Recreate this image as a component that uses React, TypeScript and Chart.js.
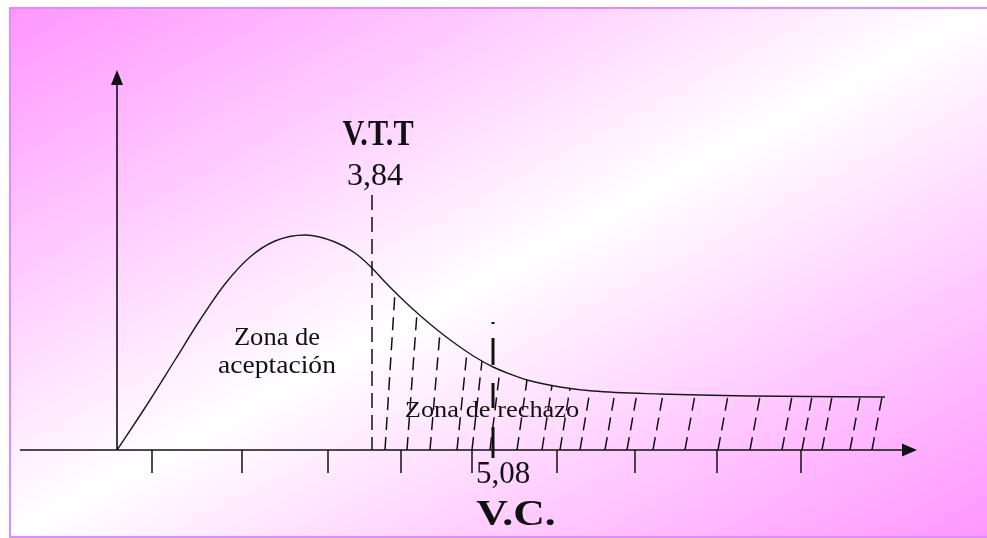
import React, { useEffect, useRef } from "react";
import { Chart, registerables } from "chart.js";

Chart.register(...registerables);

// Diagram units: x = horizontal position along the axis (origin = 0), y = curve height
const curveX = [0, 0.2, 0.33, 0.58, 0.83, 1.08, 1.33, 1.58, 1.88, 2.18, 2.38, 2.55, 2.68, 2.83, 2.98, 3.13, 3.28, 3.43, 3.58, 3.76, 3.93, 4.1, 4.43, 4.76, 5.43, 6.33, 7.68];
const curveY = [0, 0.3, 0.5, 0.9, 1.3, 1.66, 1.93, 2.09, 2.15, 2.08, 1.97, 1.82, 1.68, 1.53, 1.39, 1.26, 1.14, 1.03, 0.93, 0.83, 0.76, 0.7, 0.63, 0.59, 0.56, 0.54, 0.53];

// rejection-zone hatch lines (foot positions on the axis)
const hatchBase = [2.68, 2.9, 3.13, 3.4, 3.55, 3.73, 4.0, 4.25, 4.43, 4.63, 4.88, 5.1, 5.36, 5.68, 6.01, 6.33, 6.65, 6.85, 7.05, 7.33, 7.55];

// tick marks under the horizontal axis
const axisTicks = [0.35, 1.25, 2.11, 2.84, 3.55, 4.4, 5.18, 6.0, 6.84];

// critical values
const vttLabel = "V.T.T";
const vttValue = "3,84";
const vttPos = 2.55;
const vttTop = 2.55;
const vcLabel = "V.C.";
const vcValue = "5,08";
const vcPos = 3.76;
const vcTop = 1.28;

const acceptLabel = ["Zona de", "aceptación"];
const rejectLabel = "Zona de rechazo";

const xAxisRange = [-0.97, 8.0];
const yAxisTop = 3.8;

const SERIF = '"Liberation Serif", "Times New Roman", serif';

function drawText(ctx: CanvasRenderingContext2D, text: string, cx: number, base: number, font: string, sx = 1) {
  ctx.save();
  ctx.font = font;
  ctx.fillStyle = "#111";
  ctx.textAlign = "center";
  ctx.textBaseline = "alphabetic";
  ctx.translate(cx, base);
  ctx.scale(sx, 1);
  ctx.fillText(text, 0, 0);
  ctx.restore();
}

const diagramPlugin = {
  id: "diagram",
  afterDatasetsDraw(chart: any) {
    const ctx: CanvasRenderingContext2D = chart.ctx;
    const xs = chart.scales.x;
    const ys = chart.scales.y;
    const X = (v: number) => xs.getPixelForValue(v);
    const Y = (v: number) => ys.getPixelForValue(v);
    const y0 = Y(0);
    const meta = chart.getDatasetMeta(0);
    const pts = meta.data;
    const line = meta.dataset;

    const curveAt = (px: number) => {
      for (let i = 1; i < pts.length; i++) {
        if (px <= pts[i].x) {
          const a = pts[i - 1], b = pts[i];
          const t = (px - a.x) / (b.x - a.x);
          return a.y + t * (b.y - a.y);
        }
      }
      return pts[pts.length - 1].y;
    };

    // ---- hatches, clipped to the area under the curve
    ctx.save();
    ctx.beginPath();
    let ok = false;
    try {
      if (typeof line.updateControlPoints === "function") line.updateControlPoints(chart.chartArea, "x");
      line.path(ctx);
      ok = true;
    } catch (e) {
      ok = false;
    }
    if (!ok) {
      ctx.beginPath();
      pts.forEach((p: any, i: number) => (i ? ctx.lineTo(p.x, p.y) : ctx.moveTo(p.x, p.y)));
    }
    ctx.lineTo(pts[pts.length - 1].x, y0);
    ctx.lineTo(pts[0].x, y0);
    ctx.closePath();
    ctx.clip();
    ctx.strokeStyle = "#111";
    ctx.lineWidth = 1.5;
    ctx.setLineDash([13, 7]);
    const lean = 10;
    hatchBase.forEach((b) => {
      const bx = X(b);
      const tx = bx + lean;
      const ty = curveAt(tx);
      const dx = tx - bx, dy = ty - y0;
      const len = Math.hypot(dx, dy);
      ctx.beginPath();
      ctx.moveTo(bx, y0);
      ctx.lineTo(tx + (dx / len) * 6, ty + (dy / len) * 6);
      ctx.stroke();
    });
    ctx.restore();

    // ---- axes
    ctx.save();
    ctx.strokeStyle = "#111";
    ctx.fillStyle = "#111";
    ctx.lineWidth = 1.6;
    ctx.setLineDash([]);
    // horizontal
    const xl = X(xAxisRange[0]);
    const xr = X(xAxisRange[1]);
    ctx.beginPath();
    ctx.moveTo(xl, y0);
    ctx.lineTo(xr - 12, y0);
    ctx.stroke();
    ctx.beginPath();
    ctx.moveTo(xr, y0);
    ctx.lineTo(xr - 15, y0 - 6.5);
    ctx.lineTo(xr - 15, y0 + 6.5);
    ctx.closePath();
    ctx.fill();
    // vertical
    const x0 = X(0);
    const yt = Y(yAxisTop);
    ctx.beginPath();
    ctx.moveTo(x0, y0);
    ctx.lineTo(x0, yt + 12);
    ctx.stroke();
    ctx.beginPath();
    ctx.moveTo(x0, yt);
    ctx.lineTo(x0 - 6, yt + 15);
    ctx.lineTo(x0 + 6, yt + 15);
    ctx.closePath();
    ctx.fill();
    // ticks
    ctx.lineWidth = 1.5;
    axisTicks.forEach((t) => {
      ctx.beginPath();
      ctx.moveTo(X(t), y0);
      ctx.lineTo(X(t), y0 + 23);
      ctx.stroke();
    });

    // ---- critical value line (dashed)
    ctx.lineWidth = 1.5;
    ctx.setLineDash([15, 7]);
    ctx.beginPath();
    ctx.moveTo(X(vttPos), Y(vttTop));
    ctx.lineTo(X(vttPos), y0);
    ctx.stroke();

    // ---- calculated value line (thick dash-dot)
    ctx.lineWidth = 3;
    ctx.setLineDash([2, 14, 27, 18, 25, 19, 32, 100]);
    ctx.beginPath();
    ctx.moveTo(X(vcPos), Y(vcTop));
    ctx.lineTo(X(vcPos), y0 + 8);
    ctx.stroke();
    ctx.restore();

    // ---- texts
    drawText(ctx, vttLabel, X(vttPos) + 6, 145, `bold 36px ${SERIF}`, 0.84);
    drawText(ctx, vttValue, X(vttPos) + 3, 185, `32px ${SERIF}`);
    drawText(ctx, acceptLabel[0], 277, 345, `26px ${SERIF}`, 1.02);
    drawText(ctx, acceptLabel[1], 277, 373, `26px ${SERIF}`, 1.06);
    drawText(ctx, rejectLabel, 492, 417, `24px ${SERIF}`, 1.1);
    drawText(ctx, vcValue, X(vcPos) + 10, 483, `31px ${SERIF}`);
    drawText(ctx, vcLabel, X(vcPos) + 23, 525, `bold 35px ${SERIF}`, 1.25);
  },
};

export default function App() {
  const ref = useRef<HTMLCanvasElement>(null);
  useEffect(() => {
    const chart = new Chart(ref.current as HTMLCanvasElement, {
      type: "line",
      data: {
        datasets: [
          {
            data: curveX.map((x, i) => ({ x, y: curveY[i] })),
            borderColor: "#1a1a1a",
            borderWidth: 1.4,
            pointRadius: 0,
            cubicInterpolationMode: "monotone",
            fill: false,
          },
        ],
      },
      options: {
        responsive: false,
        animation: false,
        events: [],
        layout: { padding: 0 },
        plugins: { legend: { display: false }, tooltip: { enabled: false } },
        scales: {
          x: { type: "linear", min: -1.17, max: 8.7, display: false },
          y: { type: "linear", min: -0.88, max: 4.5, display: false },
        },
      },
      plugins: [diagramPlugin],
    } as any);
    return () => chart.destroy();
  }, []);
  return (
    <>
      <div
        style={{
          position: "fixed",
          left: 9,
          top: 7,
          width: 978,
          height: 531,
          boxSizing: "border-box",
          borderTop: "2px solid #dc8eff",
          borderLeft: "2px solid #dc8eff",
          borderBottom: "2px solid #dc8eff",
          borderRight: "none",
          background: "linear-gradient(to bottom right, #ff96ff 0%, #ffffff 50%, #ff96ff 100%)",
        }}
      />
      <canvas
        ref={ref}
        width={987}
        height={538}
        style={{ position: "fixed", left: 0, top: 0, width: 987, height: 538 }}
      />
    </>
  );
}
